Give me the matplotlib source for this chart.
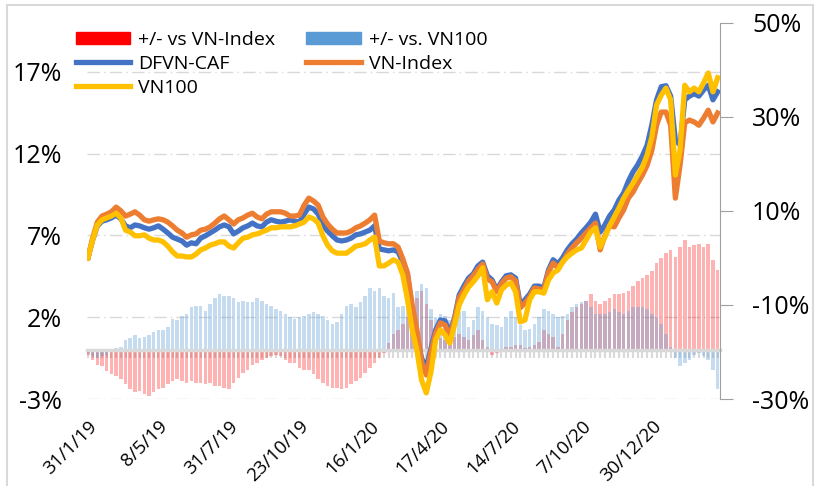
import matplotlib.pyplot as plt
import numpy as np
from matplotlib.patches import Patch, Rectangle
from matplotlib.lines import Line2D

plt.rcParams['font.family'] = ['Open Sans', 'DejaVu Sans']

# cumulative return since 31/1/19 (%), one point every 4 sessions - right axis
dfvn = [0.0, 3.8, 6.8, 7.8, 8.1, 8.5, 9.1, 8.3, 6.8, 6.4,
        7.0, 6.8, 6.4, 6.1, 6.4, 6.8, 6.1, 5.3, 4.4, 4.0,
        3.6, 2.7, 3.2, 3.0, 4.2, 4.7, 5.3, 5.9, 6.6, 7.0,
        6.6, 5.1, 5.7, 6.4, 6.8, 7.4, 6.8, 6.6, 7.6, 8.1,
        7.8, 7.6, 7.8, 8.1, 7.8, 7.6, 9.3, 10.8, 10.4, 9.3,
        7.0, 5.7, 4.7, 3.8, 3.6, 3.8, 4.2, 4.9, 5.1, 5.5,
        5.9, 6.8, 1.9, 1.7, 1.5, 1.7, 1.3, -0.9, -3.6, -11.5,
        -16.8, -21.3, -23.4, -19.2, -15.3, -13.2, -13.4, -16.0, -12.8, -7.9,
        -6.0, -4.3, -3.4, -1.7, -0.9, -3.8, -4.7, -6.8, -5.1, -3.8,
        -3.6, -4.3, -10.0, -8.9, -7.7, -6.0, -6.0, -6.4, -2.6, -0.4,
        -1.3, 0.0, 1.7, 3.0, 4.0, 5.3, 6.4, 7.6, 9.3, 5.5,
        7.0, 8.9, 10.2, 12.3, 13.8, 16.3, 18.3, 19.8, 21.7, 24.0,
        28.3, 33.6, 36.4, 36.6, 34.4, 25.1, 24.0, 33.6, 34.4, 34.9,
        34.4, 35.7, 36.7, 33.6, 35.3]
vnindex = [0.0, 4.2, 7.6, 8.9, 9.3, 9.8, 10.8, 10.0, 8.9, 9.3,
           9.8, 9.1, 8.1, 7.8, 8.1, 8.3, 8.1, 7.6, 6.8, 5.9,
           5.3, 4.4, 4.9, 5.1, 5.9, 6.1, 6.6, 7.4, 8.3, 8.9,
           8.1, 7.2, 8.1, 8.5, 9.1, 9.5, 8.7, 8.3, 9.3, 9.8,
           9.8, 9.8, 9.5, 8.9, 8.9, 9.1, 11.2, 12.7, 12.1, 11.2,
           8.7, 7.2, 6.1, 5.3, 5.3, 5.3, 5.7, 6.4, 6.8, 7.4,
           8.1, 9.1, 3.6, 3.2, 3.0, 3.0, 2.3, -0.2, -3.2, -10.0,
           -15.3, -22.1, -24.9, -20.0, -16.0, -13.8, -14.3, -16.6, -13.2, -8.5,
           -6.8, -4.9, -3.8, -2.4, -1.3, -4.5, -5.1, -7.2, -5.5, -4.3,
           -4.0, -4.9, -10.6, -9.6, -8.3, -6.4, -6.6, -6.8, -3.0, -1.1,
           -2.1, -0.9, 0.8, 2.1, 3.2, 4.2, 5.3, 6.4, 7.4, 1.7,
           4.7, 6.8, 6.6, 8.5, 10.2, 12.7, 14.0, 15.9, 17.6, 19.7,
           22.9, 28.2, 31.0, 31.0, 28.2, 12.7, 19.7, 28.7, 29.3, 28.9,
           28.2, 29.7, 31.4, 28.9, 30.8]
vn100 = [0.0, 3.8, 7.0, 8.1, 8.5, 8.9, 9.5, 8.5, 5.9, 5.5,
         4.7, 4.7, 4.9, 4.2, 3.8, 3.8, 3.4, 2.5, 1.3, 0.4,
         0.4, 0.2, 0.2, 0.8, 1.7, 2.1, 2.7, 3.0, 3.4, 3.4,
         2.5, 2.1, 3.2, 4.2, 4.4, 4.9, 5.1, 5.5, 5.9, 6.4,
         6.4, 6.6, 6.6, 6.6, 6.8, 7.2, 7.6, 8.7, 8.3, 7.4,
         4.7, 2.7, 1.5, 1.0, 1.0, 1.0, 1.7, 2.5, 2.7, 3.0,
         3.8, 4.4, -1.7, -1.7, -1.1, -0.4, -0.9, -3.6, -8.9, -15.3,
         -19.6, -26.0, -28.7, -24.2, -17.4, -15.3, -16.4, -18.1, -14.3, -10.0,
         -7.9, -6.2, -5.1, -3.8, -2.1, -8.9, -7.2, -9.6, -6.8, -5.8,
         -5.3, -7.2, -13.6, -13.2, -8.9, -7.2, -7.2, -7.5, -4.7, -3.2,
         -2.6, -0.9, 0.2, 1.0, 1.7, 2.1, 3.8, 5.5, 6.4, 2.3,
         4.4, 6.8, 8.7, 10.6, 12.7, 14.4, 15.9, 17.6, 19.3, 21.9,
         25.7, 32.5, 34.6, 36.1, 33.6, 17.6, 22.9, 36.7, 35.3, 36.1,
         35.3, 37.2, 39.3, 35.3, 38.3]

# relative performance (%) - left axis
diff_vnindex = [-0.3, -0.6, -0.9, -1.0, -1.3, -1.5, -1.6, -1.8, -2.1, -2.4,
                -2.6, -2.5, -2.7, -2.8, -2.6, -2.4, -2.3, -2.1, -1.9, -1.8,
                -1.9, -2.0, -1.9, -2.0, -2.0, -2.1, -2.0, -2.2, -2.2, -2.3,
                -2.4, -2.0, -1.7, -1.4, -1.2, -0.9, -0.8, -0.6, -0.5, -0.4,
                -0.3, -0.4, -0.6, -0.8, -0.8, -1.1, -1.2, -1.2, -1.5, -1.8,
                -2.0, -2.2, -2.3, -2.3, -2.4, -2.3, -2.1, -1.9, -1.7, -1.4,
                -1.1, -0.8, -0.5, -0.2, 0.4, 1.0, 1.2, 1.6, 2.0, 2.6,
                3.2, 3.6, 2.8, 1.8, 1.0, 0.7, 0.6, 0.5, 0.8, 1.0,
                0.8, 0.6, 0.9, 1.2, 0.6, 0.2, -0.3, -0.2, -0.1, 0.2,
                0.2, 0.3, 0.3, 0.1, 0.2, 0.3, 0.5, 1.2, 1.0, 0.8,
                0.2, 1.0, 1.8, 2.3, 2.6, 2.8, 3.0, 3.4, 3.0, 2.8,
                3.0, 3.2, 3.4, 3.4, 3.5, 3.6, 3.9, 4.2, 4.4, 4.6,
                4.8, 5.3, 5.6, 5.9, 6.1, 5.7, 6.3, 6.7, 6.3, 6.4,
                6.5, 6.3, 6.5, 5.5, 4.9]
diff_vn100 = [-0.2, -0.4, -0.5, -0.4, -0.3, -0.1, 0.1, 0.2, 0.6, 0.7,
              0.9, 0.7, 0.8, 0.9, 1.1, 1.2, 1.2, 1.4, 1.9, 1.8,
              2.1, 2.2, 2.6, 2.7, 2.7, 2.4, 2.8, 3.2, 3.4, 3.3,
              3.3, 3.2, 2.9, 3.0, 2.9, 2.9, 3.2, 3.0, 2.8, 2.7,
              2.5, 2.4, 2.2, 2.0, 1.9, 2.0, 2.1, 2.2, 2.3, 2.2,
              2.1, 1.8, 1.6, 1.7, 2.2, 2.7, 2.8, 2.6, 2.9, 3.3,
              3.8, 3.6, 3.8, 3.3, 3.2, 3.5, 2.6, 2.7, 2.6, 3.0,
              3.6, 4.0, 3.8, 2.5, 2.0, 2.2, 2.1, 1.8, 2.0, 2.3,
              2.4, 1.4, 1.8, 2.6, 2.4, 2.0, 1.6, 1.5, 1.4, 2.0,
              2.4, 2.0, 1.5, 1.2, 1.3, 1.6, 2.0, 2.5, 2.4, 2.2,
              2.0, 2.1, 2.2, 2.6, 2.8, 2.9, 3.0, 2.6, 2.2, 2.2,
              2.2, 2.3, 2.5, 2.3, 2.2, 2.4, 2.6, 2.6, 2.6, 2.5,
              2.2, 2.0, 1.6, 1.0, 0.2, -0.5, -1.0, -0.8, -0.6, -0.3,
              -0.2, -0.4, -0.6, -1.2, -2.4]

date_pos = [0, 15, 30, 45, 60, 75, 90, 105, 120]
date_labels = ['31/1/19', '8/5/19', '31/7/19', '23/10/19', '16/1/20',
               '17/4/20', '14/7/20', '7/10/20', '30/12/20']
left_ticks = [-3, 2, 7, 12, 17]
right_ticks = [-30, -10, 10, 30, 50]

x = np.arange(len(dfvn))
grey = '#d9d9d9'

fig = plt.figure(figsize=(8.2, 4.86), dpi=100)
ax = fig.add_axes([87 / 820, 1 - 399 / 486, 633 / 820, 376.3 / 486])
ax2 = ax.twinx()

# bars on the left axis
ax.bar(x, diff_vnindex, width=0.75, color='#FF0000', alpha=0.3, linewidth=0)
ax.bar(x, diff_vn100, width=0.75, color='#5B9BD5', alpha=0.35, linewidth=0)
ax.set_xlim(-0.2, len(x) - 0.5)
ax.set_ylim(-3, 20)
ax.set_yticks(left_ticks)
ax.set_yticklabels([f'{v}%' for v in left_ticks])
ax.yaxis.grid(True, color=grey, linestyle=(0, (9, 3, 1, 3)), linewidth=1)
ax.set_axisbelow(True)
ax.tick_params(axis='y', length=0, pad=18, labelsize=18)
for s in ['left', 'top', 'right']:
    ax.spines[s].set_visible(False)
ax.spines['bottom'].set_position(('data', 0))
ax.spines['bottom'].set_color(grey)
ax.spines['bottom'].set_linewidth(2.5)
ax.set_xticks(x)
ax.tick_params(axis='x', length=6, width=1.5, color=grey, labelbottom=False)

# date labels at the bottom of the plot area
sec = ax.secondary_xaxis(0)
sec.set_xticks(date_pos)
sec.set_xticklabels(date_labels, rotation=45, ha='right', va='top',
                    rotation_mode='anchor', fontsize=13.5)
sec.tick_params(length=0, pad=13)
sec.spines['bottom'].set_visible(False)

# lines on the right axis
ax2.plot(x, dfvn, color='#4472C4', lw=3.8, solid_joinstyle='round')
ax2.plot(x, vnindex, color='#ED7D31', lw=3.8, solid_joinstyle='round')
ax2.plot(x, vn100, color='#FFC000', lw=3.8, solid_joinstyle='round')
ax2.set_ylim(-30, 50)
ax2.set_yticks(right_ticks)
ax2.set_yticklabels([f'{v}%' for v in right_ticks])
ax2.tick_params(axis='y', length=9, color='#a0a0a0', pad=14, labelsize=18)
for s in ['left', 'top', 'bottom']:
    ax2.spines[s].set_visible(False)
ax2.spines['right'].set_color('#a0a0a0')

handles = [Patch(color='#FF0000'),
           Line2D([], [], color='#4472C4', lw=3.8),
           Line2D([], [], color='#FFC000', lw=3.8),
           Patch(color='#5B9BD5'),
           Line2D([], [], color='#ED7D31', lw=3.8)]
labels = ['+/- vs VN-Index', 'DFVN-CAF', 'VN100', '+/- vs. VN100', 'VN-Index']
fig.legend(handles, labels, ncol=2, loc='upper left',
           bbox_to_anchor=(76 / 820, 1 - 31 / 486), frameon=False, fontsize=14,
           handlelength=2.8, handleheight=0.6, handletextpad=0.4,
           columnspacing=1.6, labelspacing=0.3, borderpad=0, borderaxespad=0)

fig.patches.append(Rectangle((7 / 820, -0.01), 806 / 820, 1 - 5 / 486 + 0.01,
                             transform=fig.transFigure, fill=False,
                             edgecolor=grey, lw=1.5))

fig.savefig('out.png', dpi=100)
